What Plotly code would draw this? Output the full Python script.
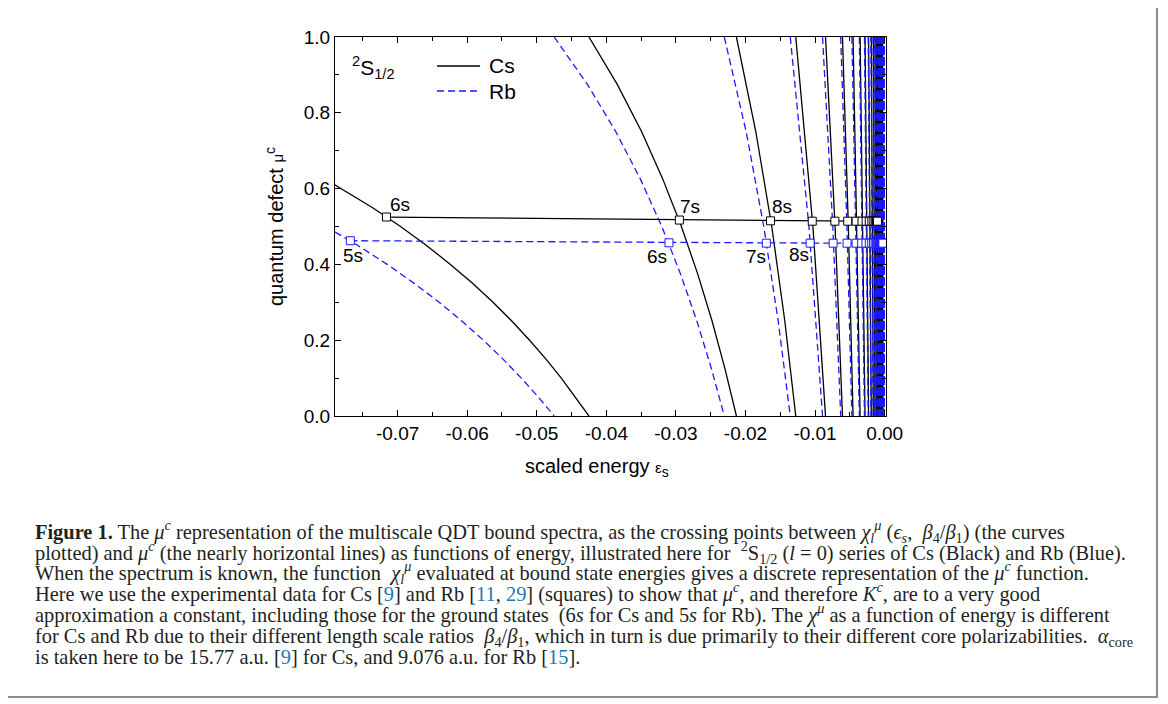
import plotly.graph_objects as go

# ---------------- data ----------------
# Experimental levels (squares): scaled energy and mu^c
cs_level_eps = [-0.0716, -0.0295, -0.0164, -0.0104, -0.00715, -0.0053, -0.0041, -0.00325,
                -0.00265, -0.0022, -0.00183, -0.00155, -0.00134, -0.00117, -0.00103]
cs_level_mu = [0.525, 0.517, 0.515, 0.514, 0.514, 0.514, 0.514, 0.514,
               0.514, 0.514, 0.514, 0.514, 0.514, 0.514, 0.514]
rb_level_eps = [-0.0768, -0.0310, -0.0170, -0.0107, -0.0074, -0.0054, -0.0041, -0.0033,
                -0.00268, -0.0022, -0.00185, -0.00158, -0.00136, -0.00118, -0.00104, -0.00092,
                -0.00082, -0.00073, -0.00066, -0.0006, -0.00054, -0.00049, -0.00045, -0.00041,
                -0.00038, -0.00035, -0.0003, -0.00025]
rb_level_mu = [0.4625, 0.457, 0.456, 0.456, 0.456, 0.456, 0.456, 0.456,
               0.456, 0.456, 0.456, 0.456, 0.456, 0.456, 0.456, 0.456,
               0.456, 0.456, 0.456, 0.456, 0.456, 0.456, 0.456, 0.456,
               0.456, 0.456, 0.456, 0.456]

# chi curves (branches of mu vs energy)
cs_first_mu = [0.62, 0.55, 0.5, 0.45, 0.4, 0.35, 0.3, 0.25, 0.2, 0.15, 0.1, 0.05, 0.0]
cs_first_eps = [-0.07995, -0.07364, -0.06958, -0.06585, -0.06241, -0.05923, -0.05629,
                -0.05356, -0.05103, -0.04867, -0.04647, -0.04442, -0.0425]
rb_first_mu = [0.5, 0.45, 0.4, 0.35, 0.3, 0.25, 0.2, 0.15, 0.1, 0.05, 0.0]
rb_first_eps = [-0.08034, -0.07572, -0.07149, -0.06761, -0.06403, -0.06073, -0.05767,
                -0.05485, -0.05222, -0.04978, -0.0475]

branch_mu9 = [1.0, 0.875, 0.75, 0.625, 0.5, 0.375, 0.25, 0.125, 0.0]
cs_branches9 = [[-0.0425, -0.03843, -0.03492, -0.03188, -0.02921, -0.02687, -0.02479,
                 -0.02295, -0.0213]]
rb_branches9 = [[-0.0475, -0.04272, -0.03863, -0.0351, -0.03202, -0.02934, -0.02698,
                 -0.02489, -0.02304]]

branch_mu5 = [1.0, 0.75, 0.5, 0.25, 0.0]
cs_branches5 = [[-0.0213, -0.01851, -0.01622, -0.01434, -0.01277]]
rb_branches5 = [[-0.02304, -0.0199, -0.01737, -0.01529, -0.01356]]

branch_mu3 = [1.0, 0.5, 0.0]
cs_branches3 = [[-0.01277, -0.010305, -0.008493], [-0.008493, -0.00712, -0.006055],
                [-0.006055, -0.005212, -0.004534], [-0.004534, -0.00398, -0.003522],
                [-0.003522, -0.003138, -0.002814], [-0.002814, -0.002538, -0.0023]]
rb_branches3 = [[-0.01356, -0.010878, -0.00892], [-0.00892, -0.007447, -0.00631],
                [-0.00631, -0.005416, -0.0047], [-0.0047, -0.004115, -0.003634],
                [-0.003634, -0.003233, -0.002894], [-0.002894, -0.002606, -0.002359]]

# crossing energies (mu = 0 / 1) of the dense branches near threshold
cs_dense_cross = [-0.0023, -0.001915, -0.001619, -0.001387, -0.001201, -0.001051, -0.000927,
                  -0.000823, -0.000736, -0.000663, -0.000599, -0.000545, -0.000497, -0.000456,
                  -0.000419, -0.000387, -0.000358, -0.000332, -0.000309, -0.000289, -0.00027]
rb_dense_cross = [-0.002359, -0.00196, -0.001654, -0.001415, -0.001224, -0.001069, -0.000942,
                  -0.000836, -0.000747, -0.000671, -0.000606, -0.00055, -0.000501, -0.000458,
                  -0.00042, -0.000387, -0.000357, -0.000331, -0.000307, -0.000286, -0.000267,
                  -0.00025, -0.000234, -0.00022, -0.000207, -0.000195, -0.000184, -0.000174,
                  -0.000165, -0.000156, -0.000148, -0.00014, -0.00012, -0.0001, -0.00008,
                  -0.00006, -0.00004]

# state labels: (text, energy, mu)
cs_labels = [("6s", -0.0697, 0.559), ("7s", -0.0280, 0.554), ("8s", -0.01471, 0.554)]
rb_labels = [("5s", -0.07645, 0.4235), ("6s", -0.03277, 0.421), ("7s", -0.01854, 0.421),
             ("8s", -0.0123, 0.427)]

x_ticks = [-0.07, -0.06, -0.05, -0.04, -0.03, -0.02, -0.01, 0.0]
x_ticktext = ["-0.07", "-0.06", "-0.05", "-0.04", "-0.03", "-0.02", "-0.01", "0.00"]
y_ticks = [0.0, 0.2, 0.4, 0.6, 0.8, 1.0]
y_ticktext = ["0.0", "0.2", "0.4", "0.6", "0.8", "1.0"]


def build(first_eps, first_mu, br9, br5, br3, dense):
    xs, ys = list(first_eps), list(first_mu)
    for grp, mus in ((br9, branch_mu9), (br5, branch_mu5), (br3, branch_mu3)):
        for b in grp:
            xs += [None] + list(b)
            ys += [None] + list(mus)
    for k, (a, b) in enumerate(zip(dense[:-1], dense[1:])):
        if k % 2 == 0:
            xs += [None, a, b]
            ys += [None, 1.0, 0.0]
        else:
            xs += [None, b, a]
            ys += [None, 0.0, 1.0]
    return xs, ys


BLUE = "#1a1aff"
DASH = "7px,4px"
SANS = "Liberation Sans, Arial, sans-serif"
SERIF = "Liberation Serif, Times New Roman, serif"
CITE = "#1f78b4"

cs_x, cs_y = build(cs_first_eps, cs_first_mu, cs_branches9, cs_branches5, cs_branches3,
                   cs_dense_cross)
rb_x, rb_y = build(rb_first_eps, rb_first_mu, rb_branches9, rb_branches5, rb_branches3,
                   rb_dense_cross)

fig = go.Figure()
fig.add_trace(go.Scatter(x=cs_x, y=cs_y, mode="lines", name="Cs", showlegend=False,
                         line=dict(color="black", width=1.3)))
fig.add_trace(go.Scatter(x=rb_x, y=rb_y, mode="lines", name="Rb", showlegend=False,
                         line=dict(color=BLUE, width=1.3, dash=DASH)))
fig.add_trace(go.Scatter(x=cs_level_eps, y=cs_level_mu, mode="lines+markers", showlegend=False,
                         line=dict(color="black", width=1.3),
                         marker=dict(symbol="square", size=8, color="white",
                                     line=dict(color="black", width=1))))
fig.add_trace(go.Scatter(x=rb_level_eps, y=rb_level_mu, mode="lines+markers", showlegend=False,
                         line=dict(color=BLUE, width=1.3, dash=DASH),
                         marker=dict(symbol="square", size=8, color="white",
                                     line=dict(color=BLUE, width=1))))

# ---- page geometry (page pixels; the browser adds an 8px body margin) ----
OFF = 8
W, H = 1168 - OFF, 704 - OFF
L, R, T, B = 335 - OFF, 886 - OFF, 37 - OFF, 416 - OFF


def px(xp):
    return (xp - OFF - L) / (R - L)


def py(yp):
    return (B - (yp - OFF)) / (B - T)


annotations = []
for t, x, y in cs_labels + rb_labels:
    annotations.append(dict(x=x, y=y, xref="x", yref="y", text=t, showarrow=False,
                            font=dict(family=SANS, size=19, color="black")))

annotations.append(dict(x=px(350), y=py(67), xref="paper", yref="paper", xanchor="left",
                        yanchor="middle", showarrow=False,
                        text="<sup>2</sup>S<sub>1/2</sub>",
                        font=dict(family=SANS, size=21, color="black")))

# manual legend
legend_items = [("Cs", 66, "black", "solid"), ("Rb", 91, BLUE, DASH)]
shapes = []
for name, yy, col, dsh in legend_items:
    shapes.append(dict(type="line", xref="paper", yref="paper", x0=px(437), x1=px(480),
                       y0=py(yy), y1=py(yy), line=dict(color=col, width=1.3, dash=dsh)))
    annotations.append(dict(x=px(487), y=py(yy), xref="paper", yref="paper", xanchor="left",
                            yanchor="middle", showarrow=False, text=name,
                            font=dict(family=SANS, size=21, color="black")))

# x-axis title (drawn as annotation to match its off-centre position)
annotations.append(dict(x=px(597), y=py(467), xref="paper", yref="paper", xanchor="center",
                        yanchor="middle", showarrow=False,
                        text="scaled energy <span style='font-size:15px'>ε</span><sub>s</sub>",
                        font=dict(family=SANS, size=20, color="black")))


def c(s):
    return f"<span style='color:{CITE}'>{s}</span>"


# invisible sup/sub at the end of each line so all caption lines share the same box height
PAD = "<sup><span style='color:white'>.</span></sup><sub><span style='color:white'>.</span></sub>"

caption_lines = [
    "<b>Figure 1.</b> The <i>μ</i><sup><i>c</i></sup> representation of the multiscale QDT bound spectra, as the crossing points between <i>χ</i><sub><i>l</i></sub><sup><i>μ</i></sup> (<i>ϵ</i><sub><i>s</i></sub>,  <i>β</i><sub>4</sub>/<i>β</i><sub>1</sub>) (the curves",
    "plotted) and <i>μ</i><sup><i>c</i></sup> (the nearly horizontal lines) as functions of energy, illustrated here for  <sup>2</sup>S<sub>1/2</sub> (<i>l</i> = 0) series of Cs (Black) and Rb (Blue).",
    "When the spectrum is known, the function  <i>χ</i><sub><i>l</i></sub><sup><i>μ</i></sup> evaluated at bound state energies gives a discrete representation of the <i>μ</i><sup><i>c</i></sup> function.",
    f"Here we use the experimental data for Cs [{c('9')}] and Rb [{c('11')}, {c('29')}] (squares) to show that <i>μ</i><sup><i>c</i></sup>, and therefore <i>K</i><sup><i>c</i></sup>, are to a very good",
    "approximation a constant, including those for the ground states  (6<i>s</i> for Cs and 5<i>s</i> for Rb). The <i>χ</i><sup><i>μ</i></sup> as a function of energy is different",
    "for Cs and Rb due to their different length scale ratios  <i>β</i><sub>4</sub>/<i>β</i><sub>1</sub>, which in turn is due primarily to their different core polarizabilities.  <i>α</i><sub>core</sub>",
    f"is taken here to be 15.77 a.u. [{c('9')}] for Cs, and 9.076 a.u. for Rb [{c('15')}].",
]
caption_y = [531, 552, 572, 593, 614, 635, 656]
for txt, yy in zip(caption_lines, caption_y):
    annotations.append(dict(x=px(33), y=py(yy), xref="paper", yref="paper", xanchor="left",
                            yanchor="middle", showarrow=False, text=txt + PAD,
                            font=dict(family=SERIF, size=20.4, color="#231f20")))

# outer frame of the figure panel (top edge lies above the visible page)
shapes.append(dict(type="rect", xref="paper", yref="paper", x0=px(6), x1=px(1157),
                   y0=py(697), y1=py(-20), line=dict(color="#8c8c8c", width=2),
                   fillcolor="rgba(0,0,0,0)", layer="below"))

axis_common = dict(showline=True, linecolor="black", linewidth=1.3, mirror="ticks",
                   ticks="inside", ticklen=6, tickwidth=1.2, tickcolor="black",
                   showgrid=False, zeroline=False,
                   tickfont=dict(family=SANS, size=19, color="black"))

fig.update_layout(
    width=W, height=H,
    margin=dict(l=L, r=W - R, t=T, b=H - B, autoexpand=False),
    paper_bgcolor="white", plot_bgcolor="white",
    showlegend=False,
    xaxis=dict(range=[-0.0790, 0.0002], tickvals=x_ticks, ticktext=x_ticktext,
               minor=dict(ticks="inside", ticklen=3.5, dtick=0.005, tickcolor="black",
                          tickwidth=1.2, showgrid=False),
               **axis_common),
    yaxis=dict(range=[0, 1.0], tickvals=y_ticks, ticktext=y_ticktext,
               minor=dict(ticks="inside", ticklen=3.5, dtick=0.1, tickcolor="black",
                          tickwidth=1.2, showgrid=False),
               title=dict(text="quantum defect <span style='font-size:15px'>μ</span><sup>c</sup>",
                          font=dict(family=SANS, size=20, color="black"),
                          standoff=14),
               **axis_common),
    annotations=annotations,
    shapes=shapes,
)

fig.write_html("out.html")
